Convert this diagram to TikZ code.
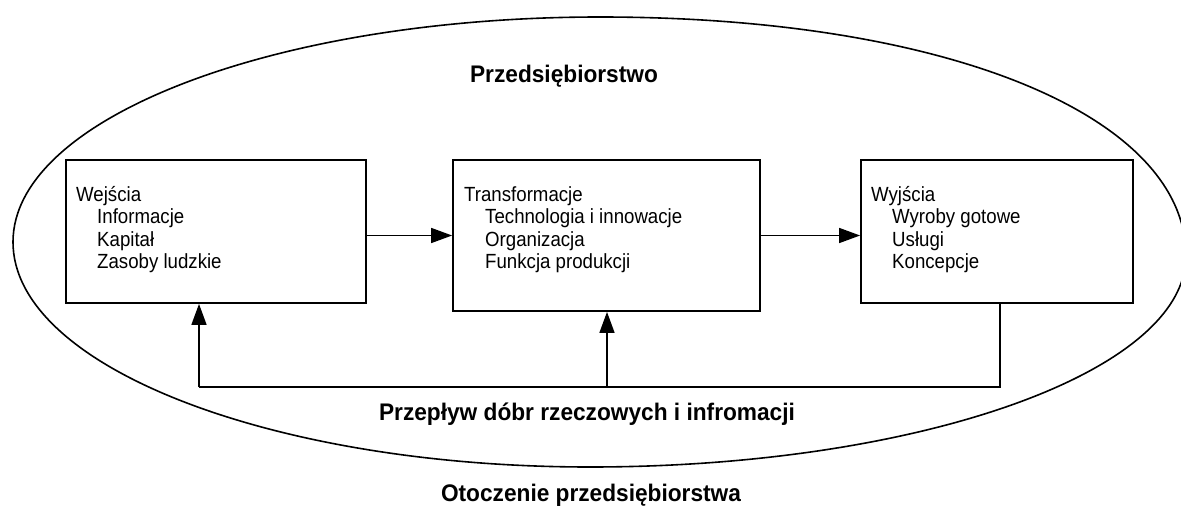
\documentclass[tikz,border=0pt]{standalone}
\usepackage{fontspec}
\setmainfont{Liberation Sans}[FakeStretch=0.91]
\newfontfamily\titlef{Liberation Sans}[FakeStretch=0.945]
\usetikzlibrary{arrows.meta}
\begin{document}
\begin{tikzpicture}[x=1pt,y=-1pt,
  box/.style={draw, line width=1.8pt, inner sep=0pt},
  conn/.style={line width=1.6pt},
  arr/.style={conn, -{Triangle[length=21pt,width=15pt]}},
  item/.style={anchor=base west, inner sep=0pt, font=\fontsize{20.5}{24}\selectfont},
  title/.style={anchor=base, inner sep=0pt, font=\titlef\bfseries\fontsize{24}{28}\selectfont},
  outline/.style={line width=1.6pt}]
\useasboundingbox (0,0) rectangle (1181,511);
% outer ellipse
\coordinate (L) at (13,242);
\coordinate (T) at (600,17);
\coordinate (R) at (1186,256);
\coordinate (B) at (590,467);
\draw[outline] (L) .. controls (13,117.7) and (275.8,17) .. (T)
  .. controls (945,17) and (1186,115) .. (R)
  .. controls (1186,373) and (916.5,467) .. (B)
  .. controls (271.3,467) and (13,366.3) .. (L);
% boxes
\node[box, minimum width=300pt, minimum height=143pt] (b1) at (216,231.5) {};
\node[box, minimum width=307pt, minimum height=151pt] (b2) at (606.5,235.5) {};
\node[box, minimum width=272pt, minimum height=143pt] (b3) at (997,231.5) {};
% texts
\node[item] (t10) at (76,201) {Wejścia};
\node[item] (t11) at (97,223.5) {Informacje};
\node[item] (t12) at (97,246) {Kapitał};
\node[item] (t13) at (97,268.5) {Zasoby ludzkie};
\node[item] (t20) at (464,201) {Transformacje};
\node[item] (t21) at (485,223.5) {Technologia i innowacje};
\node[item] (t22) at (485,246) {Organizacja};
\node[item] (t23) at (485,268.5) {Funkcja produkcji};
\node[item] (t30) at (871,201) {Wyjścia};
\node[item] (t31) at (892,223.5) {Wyroby gotowe};
\node[item] (t32) at (892,246) {Usługi};
\node[item] (t33) at (892,268.5) {Koncepcje};
% titles
\node[title] (tp) at (564,83) {Przedsiębiorstwo};
\node[title] (tf) at (587,420) {Przepływ dóbr rzeczowych i infromacji};
\node[title] (to) at (591,501) {Otoczenie przedsiębiorstwa};
% connectors
\draw[arr] (b1.east |- b2.west) -- (b2.west);
\draw[arr] (b2.east) -- (b3.west |- b2.east);
\coordinate (f1) at (199,387);
\coordinate (f2) at (607,387);
\coordinate (f3) at (1000,387);
\draw[conn] (b3.south -| f3) -- (f3) -- (f1);
\draw[arr] (f1) -- (b1.south -| f1);
\draw[arr] (f2) -- (b2.south -| f2);
\end{tikzpicture}
\end{document}
